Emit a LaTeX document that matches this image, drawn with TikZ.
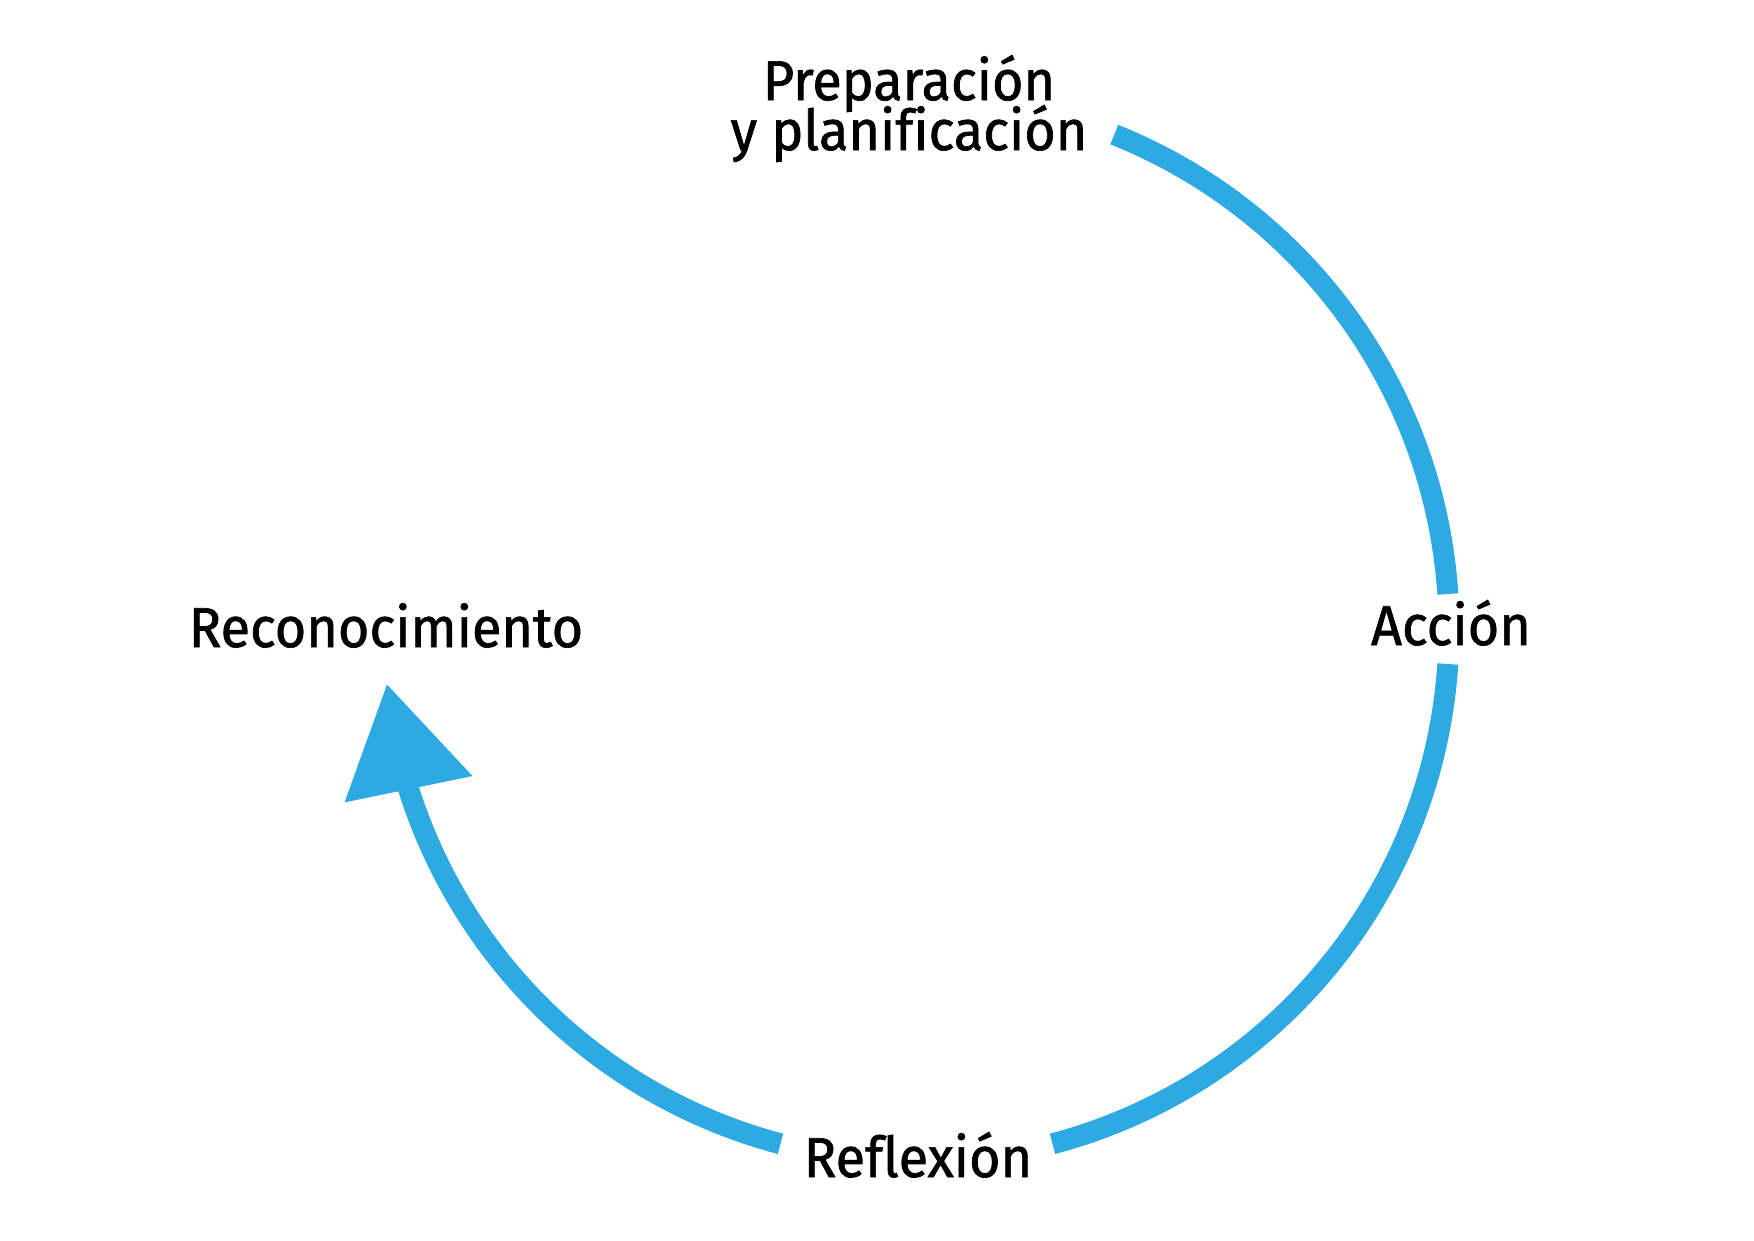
\documentclass[tikz,border=0pt]{standalone}
\usepackage{fontspec}
\setmainfont{Fira Sans}[FakeStretch=0.96, FakeBold=1.2, Ligatures=CommonOff]
\usetikzlibrary{arrows.meta, bending}
\definecolor{cycblue}{RGB}{46,170,226}
\newcommand{\labelfont}{\fontsize{16}{14.2}\selectfont\lineskiplimit-20pt\relax}
\tikzset{label/.style = {font=\labelfont, inner sep=0pt, text=black},
         cycle arc/.style = {draw=cycblue, line width=0.21cm, line cap=butt}}
\newcommand{\cycrad}{5.325}

\begin{document}
\begin{tikzpicture}
    \useasboundingbox (0,0) rectangle (17.54,-12.41);
    \coordinate (c) at (9.165,-6.29);
    % labels
    \node[label, align=center, anchor=base](prep)at(9.09,-1.50){Preparación\\y planificación};
    \node[label, anchor=base](accion)at(14.51,-6.45){Acción};
    \node[label, anchor=base](reflex)at(9.18,-11.77){Reflexión};
    \node[label, anchor=base](recon)at(3.86,-6.47){Reconocimiento};
    % arcs of the cycle
    \draw[cycle arc](c) ++(68.2:\cycrad) arc[start angle=68.2, end angle=3.77, radius=\cycrad];
    \draw[cycle arc](c) ++(-3.77:\cycrad) arc[start angle=-3.77, end angle=-75.2, radius=\cycrad];
    \draw[cycle arc, -{Triangle[length=1.077cm, width=1.248cm, flex]}](c) ++(255.2:\cycrad) arc[start angle=255.2, end angle=185.9, radius=\cycrad];
\end{tikzpicture}
\end{document}
